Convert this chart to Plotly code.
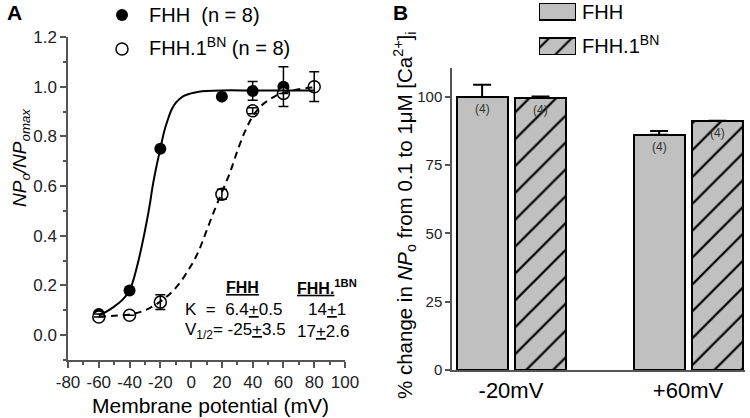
import plotly.graph_objects as go

# ---------------- Panel A data ----------------
volt_fhh = [-60, -40, -20, 20, 40, 60]
np_fhh = [0.085, 0.18, 0.75, 0.96, 0.983, 1.0]
err_fhh = [0, 0, 0, 0, 0.038, 0.08]

volt_bn = [-60, -40, -20, 20, 40, 60, 80]
np_bn = [0.073, 0.08, 0.133, 0.567, 0.903, 0.973, 1.0]
err_bn = [0, 0, 0.03, 0.02, 0.012, 0, 0.06]

# fitted curves
fit_fhh_v = [-60, -55, -50, -45, -40, -35, -30, -27, -25, -22.5, -20, -17.5, -15, -12.5, -10, -5, 0, 5, 10, 20, 40, 60, 80]
fit_fhh_y = [0.08, 0.095, 0.115, 0.14, 0.18, 0.28, 0.42, 0.52, 0.60, 0.68, 0.75, 0.82, 0.87, 0.91, 0.935, 0.962, 0.973, 0.98, 0.983, 0.985, 0.985, 0.985, 0.985]
fit_bn_v = [-60, -50, -40, -30, -20, -10, 0, 5, 10, 15, 20, 25, 30, 35, 40, 45, 50, 55, 60, 70, 80]
fit_bn_y = [0.075, 0.078, 0.083, 0.10, 0.135, 0.19, 0.28, 0.34, 0.42, 0.50, 0.575, 0.65, 0.74, 0.82, 0.88, 0.92, 0.945, 0.963, 0.975, 0.99, 0.997]

x_ticks_a = [-80, -60, -40, -20, 0, 20, 40, 60, 80, 100]
x_ticklabels_a = ["-80", "-60", "-40", "-20", "0", "20", "40", "60", "80", "100"]
legend_a = ["FHH\u00a0\u00a0(n = 8)", "FHH.1<sup>BN</sup> (n = 8)"]

# ---------------- Panel B data ----------------
categories = ["-20mV", "+60mV"]
cat_pos = [0, 1]
pct_fhh = [100.0, 86.2]
pct_fhh_err = [4.5, 1.3]
pct_bn = [99.7, 91.3]
pct_bn_err = [0.5, 0.0]
n_fhh = ["(4)", "(4)"]
n_bn = ["(4)", "(4)"]
legend_b = ["FHH", "FHH.1<sup>BN</sup>"]

W, H = 750, 418
def px(x): return x / W
def py(y): return (H - y) / H

AX = "#555555"
GRAY = "#c0c0c0"
FONT = "Liberation Sans, Arial, sans-serif"

fig = go.Figure()

# Panel A markers
fig.add_trace(go.Scatter(x=volt_fhh, y=np_fhh, mode="markers",
                         marker=dict(symbol="circle", size=12, color="black"),
                         xaxis="x", yaxis="y", showlegend=False))
fig.add_trace(go.Scatter(x=volt_bn, y=np_bn, mode="markers",
                         marker=dict(symbol="circle", size=12, color="white", line=dict(color="black", width=1.5)),
                         xaxis="x", yaxis="y", showlegend=False))
# error bars over markers
fig.add_trace(go.Scatter(x=volt_fhh, y=np_fhh, mode="markers", marker=dict(size=0.1, color="rgba(0,0,0,0)"),
                         error_y=dict(type="data", array=err_fhh, color="black", thickness=1.5, width=5),
                         xaxis="x", yaxis="y", showlegend=False, hoverinfo="skip"))
fig.add_trace(go.Scatter(x=volt_bn, y=np_bn, mode="markers", marker=dict(size=0.1, color="rgba(0,0,0,0)"),
                         error_y=dict(type="data", array=err_bn, color="black", thickness=1.5, width=5),
                         xaxis="x", yaxis="y", showlegend=False, hoverinfo="skip"))
# fit lines
fig.add_trace(go.Scatter(x=fit_fhh_v, y=fit_fhh_y, mode="lines", line=dict(color="black", width=2, shape="spline"),
                         xaxis="x", yaxis="y", showlegend=False, hoverinfo="skip"))
fig.add_trace(go.Scatter(x=fit_bn_v, y=fit_bn_y, mode="lines", line=dict(color="black", width=2, dash="7px,5px", shape="spline"),
                         xaxis="x", yaxis="y", showlegend=False, hoverinfo="skip"))

# legend swatches for panel A
fig.add_trace(go.Scatter(x=[0.5], y=[1], mode="markers", marker=dict(symbol="circle", size=12, color="black"),
                         xaxis="x4", yaxis="y4", showlegend=False, hoverinfo="skip", cliponaxis=False))
fig.add_trace(go.Scatter(x=[0.5], y=[0], mode="markers",
                         marker=dict(symbol="circle", size=12, color="white", line=dict(color="black", width=1.5)),
                         xaxis="x4", yaxis="y4", showlegend=False, hoverinfo="skip", cliponaxis=False))

# Panel B bars
bw = 0.288
pat = dict(shape="/", fgcolor="black", bgcolor=GRAY, fgopacity=1, size=19, solidity=0.12)
fig.add_trace(go.Bar(x=cat_pos, y=pct_fhh, width=bw, offset=-0.307, name="FHH",
                     marker=dict(color=GRAY, line=dict(color="black", width=2)),
                     error_y=dict(type="data", symmetric=False, array=pct_fhh_err, arrayminus=[0, 0],
                                  color="black", thickness=2, width=9),
                     xaxis="x2", yaxis="y2", showlegend=False, cliponaxis=False))
fig.add_trace(go.Bar(x=cat_pos, y=pct_bn, width=bw, offset=0.023, name="FHH.1BN",
                     marker=dict(color=GRAY, line=dict(color="black", width=2), pattern=pat),
                     error_y=dict(type="data", symmetric=False, array=pct_bn_err, arrayminus=[0, 0],
                                  color="black", thickness=2, width=9),
                     xaxis="x2", yaxis="y2", showlegend=False, cliponaxis=False))

# legend swatches for panel B
fig.add_trace(go.Bar(x=[1], y=[1], orientation="h", width=0.486, base=0,
                     marker=dict(color=GRAY, line=dict(color="black", width=2)),
                     xaxis="x3", yaxis="y3", showlegend=False, cliponaxis=False, hoverinfo="skip"))
fig.add_trace(go.Bar(x=[1], y=[0], orientation="h", width=0.486, base=0,
                     marker=dict(color=GRAY, line=dict(color="black", width=2),
                                 pattern=dict(shape="/", fgcolor="black", bgcolor=GRAY, fgopacity=1, size=16, solidity=0.13)),
                     xaxis="x3", yaxis="y3", showlegend=False, cliponaxis=False, hoverinfo="skip"))

annotations = []
# n labels in bars
for xc, v, t in zip(cat_pos, pct_fhh, n_fhh):
    annotations.append(dict(x=xc - 0.307 + bw / 2, y=v, xref="x2", yref="y2", text=t, showarrow=False,
                            xanchor="center", yanchor="top", yshift=-3, font=dict(size=12, color="#333", family=FONT)))
for xc, v, t in zip(cat_pos, pct_bn, n_bn):
    annotations.append(dict(x=xc + 0.023 + bw / 2, y=v, xref="x2", yref="y2", text=t, showarrow=False,
                            xanchor="center", yanchor="top", yshift=-3, font=dict(size=12, color="#333", family=FONT)))

def ann(x, y, text, size, xanchor="center", yanchor="middle", **kw):
    d = dict(x=px(x), y=py(y), xref="paper", yref="paper", text=text, showarrow=False,
             xanchor=xanchor, yanchor=yanchor, font=dict(size=size, color="black", family=FONT))
    d.update(kw)
    annotations.append(d)

ann(14, 13, "<b>A</b>", 21)
ann(400, 12, "<b>B</b>", 21)
ann(21, 158, "<i>NP<sub>o</sub>/NP<sub>omax</sub></i>", 19, textangle=-90)
ann(210, 405, "Membrane potential (mV)", 21)
ann(405, 215, "% change in <i>NP</i><sub>o</sub> from 0.1 to 1μM [Ca<sup>2+</sup>]<sub>i</sub>", 20.5, textangle=-90)
# table in panel A
ann(242, 287, "<b><u>FHH</u></b>", 16)
ann(295, 287, "<b><u>FHH.</u></b><sup><b>1BN</b></sup>", 16, xanchor="left")
ann(183, 309, "K\u00a0\u00a0=\u00a0\u00a06.4<u>+</u>0.5", 17, xanchor="left")
ann(306, 309, "14<u>+</u>1", 17, xanchor="left")
ann(183, 331, "V<sub>1/2</sub>= -25<u>+</u>3.5", 17, xanchor="left")
ann(295, 331, "17<u>+</u>2.6", 17, xanchor="left")
# legend texts
ann(147, 15, legend_a[0], 20, xanchor="left")
ann(147, 46, legend_a[1], 20, xanchor="left")
ann(580, 12, legend_b[0], 20, xanchor="left")
ann(580, 44, legend_b[1], 20, xanchor="left")

tickfont = dict(size=17, color="#222", family=FONT)
fig.update_layout(
    width=W, height=H, margin=dict(l=0, r=0, t=0, b=0, autoexpand=False),
    paper_bgcolor="white", plot_bgcolor="white",
    font=dict(family=FONT, color="black"),
    bargap=0,
    xaxis=dict(domain=[px(68), px(345)], range=[-80, 100], tickvals=x_ticks_a, ticktext=x_ticklabels_a, tickangle=0,
               showline=True, linecolor=AX, linewidth=1.5,
               ticks="outside", ticklen=6, tickcolor=AX, tickwidth=1.5, showgrid=False, zeroline=False, tickfont=tickfont,
               minor=dict(dtick=10, tick0=0, ticks="outside", ticklen=3, tickcolor=AX, showgrid=False),
               anchor="y", fixedrange=True, automargin=False),
    yaxis=dict(domain=[py(360), py(37)], range=[-0.1, 1.2], tickvals=[0, 0.2, 0.4, 0.6, 0.8, 1.0, 1.2], tickformat=".1f",
               showline=True, linecolor=AX, linewidth=1.5, ticks="outside", ticklen=6, tickcolor=AX, tickwidth=1.5,
               showgrid=False, zeroline=False, tickfont=tickfont,
               minor=dict(tickvals=[-0.1, 0.1, 0.3, 0.5, 0.7, 0.9, 1.1], ticks="outside", ticklen=3, tickcolor=AX, showgrid=False),
               anchor="x", fixedrange=True, automargin=False),
    xaxis2=dict(domain=[px(452), px(745)], range=[-0.333, 1.322], tickvals=cat_pos, ticktext=categories, tickangle=0,
                showline=True, linecolor=AX, linewidth=1.5, ticks="", showgrid=False, zeroline=False,
                tickfont=dict(size=22, color="black", family=FONT), anchor="y2", fixedrange=True, automargin=False),
    yaxis2=dict(domain=[py(370), py(68)], range=[0, 110.6], tickvals=[0, 25, 50, 75, 100],
                showline=True, linecolor=AX, linewidth=1.5, ticks="outside", ticklen=5, tickcolor=AX, tickwidth=1.5,
                showgrid=False, zeroline=False, tickfont=dict(size=15, color="#222", family=FONT),
                anchor="x2", fixedrange=True, automargin=False),
    xaxis3=dict(domain=[px(539), px(576)], range=[0, 1], visible=False, anchor="y3", fixedrange=True),
    yaxis3=dict(domain=[py(55), py(3)], range=[-0.243, 1.243], visible=False, anchor="x3", fixedrange=True),
    xaxis4=dict(domain=[px(112), px(132)], range=[0, 1], visible=False, anchor="y4", fixedrange=True),
    yaxis4=dict(domain=[py(60), py(5)], range=[-0.324, 1.294], visible=False, anchor="x4", fixedrange=True),
    annotations=annotations,
)

fig.write_html("out.html", config={"displayModeBar": False},
               post_script="document.body.style.margin='0';document.body.style.overflow='hidden';")
